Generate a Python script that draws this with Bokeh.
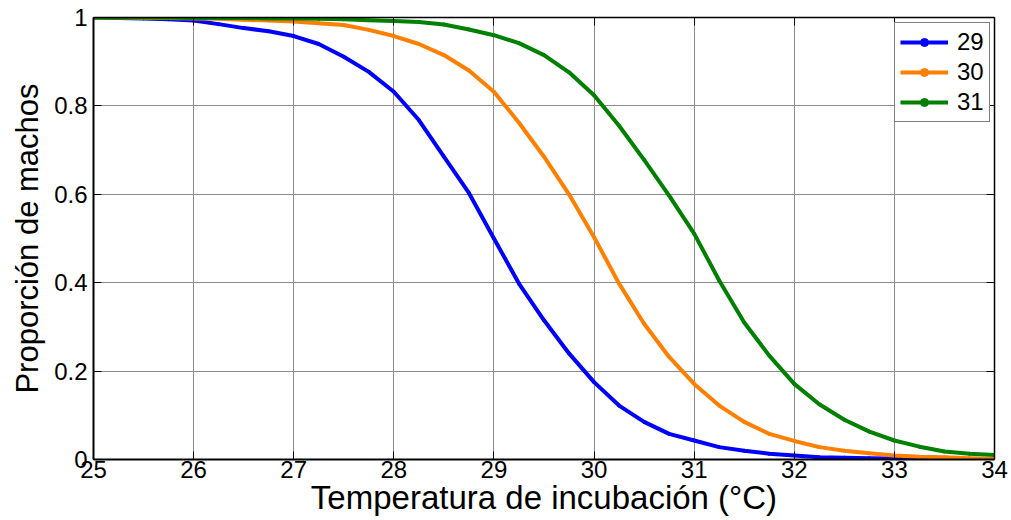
from bokeh.plotting import figure
from bokeh.models import FixedTicker, LinearAxis, CustomJSTickFormatter, Range1d
from bokeh.embed import file_html
from bokeh.resources import INLINE

# Incubation temperature (°C)
temperatura = [25.00, 25.25, 25.50, 25.75, 26.00, 26.25, 26.50, 26.75, 27.00,
               27.25, 27.50, 27.75, 28.00, 28.25, 28.50, 28.75, 29.00, 29.25,
               29.50, 29.75, 30.00, 30.25, 30.50, 30.75, 31.00, 31.25, 31.50,
               31.75, 32.00, 32.25, 32.50, 32.75, 33.00, 33.25, 33.50, 33.75,
               34.00]

# Proportion of males for each pivotal temperature
machos_29 = [1.000, 0.999, 0.998, 0.996, 0.993, 0.985, 0.976, 0.969, 0.958,
             0.940, 0.911, 0.877, 0.832, 0.768, 0.685, 0.603, 0.500, 0.398,
             0.315, 0.240, 0.175, 0.122, 0.085, 0.058, 0.043, 0.028, 0.020,
             0.013, 0.009, 0.005, 0.004, 0.003, 0.002, 0.001, 0.001, 0.000,
             0.000]
machos_30 = [1.000, 1.000, 0.999, 0.999, 0.998, 0.997, 0.995, 0.993, 0.991,
             0.987, 0.983, 0.972, 0.958, 0.940, 0.915, 0.880, 0.832, 0.762,
             0.685, 0.600, 0.503, 0.398, 0.307, 0.232, 0.171, 0.122, 0.085,
             0.058, 0.042, 0.028, 0.020, 0.014, 0.009, 0.006, 0.005, 0.003,
             0.001]
machos_31 = [1.000, 1.000, 1.000, 1.000, 0.999, 0.999, 0.999, 0.998, 0.998,
             0.997, 0.996, 0.994, 0.992, 0.990, 0.984, 0.973, 0.960, 0.942,
             0.915, 0.876, 0.824, 0.755, 0.678, 0.597, 0.511, 0.405, 0.310,
             0.235, 0.171, 0.125, 0.090, 0.063, 0.043, 0.029, 0.018, 0.013,
             0.010]

series_labels = ["29", "30", "31"]
series_colors = ["#0000ff", "#ff7f00", "#008000"]

x_ticks = [25, 26, 27, 28, 29, 30, 31, 32, 33, 34]
y_ticks = [0, 0.2, 0.4, 0.6, 0.8, 1]

FONT = "Liberation Sans"

p = figure(width=1011, height=520, x_range=Range1d(25, 34), y_range=Range1d(0, 1),
           output_backend="svg", toolbar_location=None,
           min_border_left=93, min_border_right=17, min_border_top=17,
           min_border_bottom=61)
p.outline_line_color = None
p.background_fill_color = "white"
p.border_fill_color = "white"

x_ticker = FixedTicker(ticks=x_ticks)
y_ticker = FixedTicker(ticks=y_ticks)
y_fmt = CustomJSTickFormatter(code="return String(Math.round(tick * 10) / 10);")
blank_fmt = CustomJSTickFormatter(code="return '';")

for ax in (p.xaxis[0], p.yaxis[0]):
    ax.major_tick_in = 8
    ax.major_tick_out = 0
    ax.minor_tick_line_color = None
    ax.axis_line_width = 2
    ax.axis_line_color = "black"
    ax.major_tick_line_color = "black"
    ax.major_label_text_font = FONT
    ax.major_label_text_font_size = "24px"
    ax.major_label_text_color = "black"
    ax.axis_label_text_font = FONT
    ax.axis_label_text_font_style = "normal"
    ax.axis_label_text_color = "black"

p.xaxis[0].ticker = x_ticker
p.xaxis[0].major_label_standoff = 1
p.xaxis[0].axis_label = "Temperatura de incubación (°C)"
p.xaxis[0].axis_label_text_font_size = "33px"
p.xaxis[0].axis_label_standoff = -2

p.yaxis[0].ticker = y_ticker
p.yaxis[0].formatter = y_fmt
p.yaxis[0].major_label_standoff = 6
p.yaxis[0].axis_label = "Proporción de machos"
p.yaxis[0].axis_label_text_font_size = "31px"
p.yaxis[0].axis_label_standoff = 6

# Box on top and right with inward ticks and no labels
top_axis = LinearAxis(ticker=x_ticker, formatter=blank_fmt)
right_axis = LinearAxis(ticker=y_ticker, formatter=blank_fmt)
for ax in (top_axis, right_axis):
    ax.major_tick_in = 8
    ax.major_tick_out = 0
    ax.minor_tick_line_color = None
    ax.axis_line_width = 1.5
    ax.major_label_standoff = 0
p.add_layout(top_axis, "above")
p.add_layout(right_axis, "right")

p.xgrid.ticker = x_ticker
p.ygrid.ticker = y_ticker
for g in (p.xgrid[0], p.ygrid[0]):
    g.grid_line_color = "#8c8c8c"
    g.grid_line_width = 1

for ys, lab, col in zip([machos_29, machos_30, machos_31], series_labels, series_colors):
    p.line(temperatura, ys, line_color=col, line_width=4, legend_label=lab)
    p.scatter(temperatura, ys, marker="circle", size=3, fill_color=col,
              line_color=col, legend_label=lab)

lg = p.legend[0]
lg.location = (801, 337)
lg.label_text_font = FONT
lg.label_text_font_size = "24px"
lg.label_text_color = "black"
lg.glyph_width = 48
lg.glyph_height = 20
lg.label_height = 20
lg.label_standoff = 9
lg.padding = 5
lg.spacing = 2
lg.margin = 0
lg.border_line_color = "black"
lg.border_line_width = 1
lg.background_fill_color = "white"
lg.background_fill_alpha = 1

open("out.html", "w").write(file_html(p, INLINE))
